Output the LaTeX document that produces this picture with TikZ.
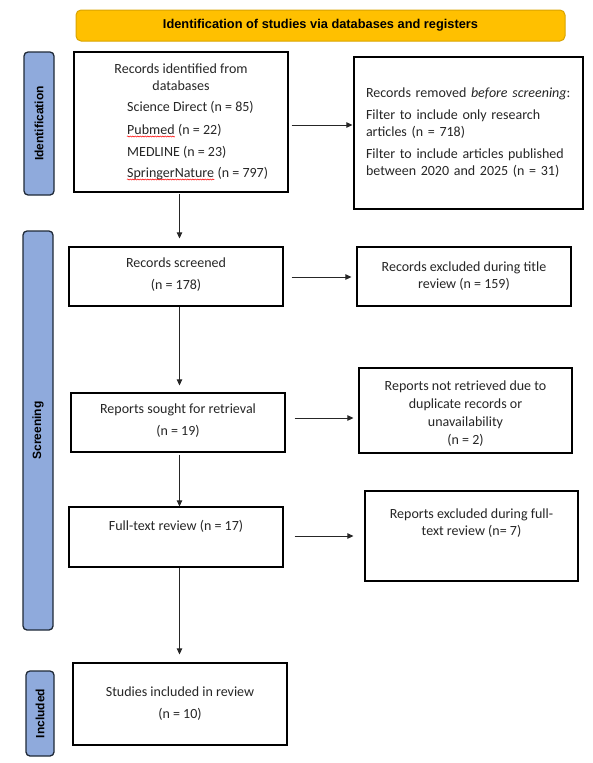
\documentclass[tikz,border=0pt]{standalone}
\usepackage{fontspec}
\setmainfont{Carlito}
\newfontfamily\arialfont{Liberation Sans}
\usetikzlibrary{arrows.meta,decorations.pathmorphing,calc}
\definecolor{hdrfill}{HTML}{FFC000}
\definecolor{hdrdraw}{HTML}{D9A400}
\definecolor{barfill}{HTML}{8FAADC}
\definecolor{bardraw}{HTML}{1F2937}
\definecolor{txt}{HTML}{262626}
\begin{document}
\begin{tikzpicture}[x=1pt,y=-1pt,
  box/.style={draw=black, line width=1.2pt, fill=white, font=\fontsize{14}{17}\selectfont, text=txt, align=center, inner sep=0pt},
  line/.style={font=\fontsize{14}{17}\selectfont, text=txt, inner sep=0pt},
  bar/.style={draw=bardraw, line width=1.3pt, fill=barfill, rounded corners=4pt, inner sep=0pt, rotate=90, font=\arialfont\bfseries\fontsize{12}{14}\selectfont, text=black},
  arr/.style={draw=txt, line width=0.8pt, -{Triangle[length=6pt,width=5.5pt]}},
  squiggle/.style={draw=red, line width=0.5pt, decorate, decoration={snake,amplitude=0.6pt,segment length=2.5pt}},
]
\useasboundingbox (0,0) rectangle (592,763);

\node[draw=hdrdraw, line width=1pt, fill=hdrfill, rounded corners=5pt, minimum width=489pt, minimum height=31pt, inner sep=0pt, font=\arialfont\bfseries\fontsize{12.8}{15}\selectfont] (hdr) at (320.5,25.5) {Identification of studies via databases and registers};

\node[bar, minimum width=143pt, minimum height=30pt] (barI) at (39,123.5) {Identification};
\node[bar, minimum width=399pt, minimum height=30pt] (barS) at (38,430.5) {Screening};
\node[bar, minimum width=85pt, minimum height=28pt] (barN) at (40,713.5) {Included};

% Records identified box
\node[box, minimum width=214pt, minimum height=140pt] (b1) at (181,122) {};
\node[line, anchor=base] (b1a) at (181,73.5) {Records identified from};
\node[line, anchor=base] (b1b) at (181,90.5) {databases};
\node[line, anchor=base west] (sd) at (127,111.5) {Science Direct (n = 85)};
\node[line, anchor=base west] (pm) at (127,134.5) {Pubmed};
\node[line, anchor=base west] (pmn) at (pm.base east) {\ (n = 22)};
\node[line, anchor=base west] (md) at (127,156.5) {MEDLINE (n = 23)};
\node[line, anchor=base west] (sn) at (127,177.5) {SpringerNature};
\node[line, anchor=base west] (snn) at (sn.base east) {\ (n = 797)};
\draw[squiggle] ([yshift=-2pt]pm.base west) -- ([yshift=-2pt]pm.base east);
\draw[squiggle] ([yshift=-2pt]sn.base west) -- ([yshift=-2pt]sn.base east);

\node[box, align=left, text width=205pt, minimum width=229pt, minimum height=152pt, inner xsep=12pt] (rm) at (468.5,133) {Records removed \textit{before screening}:\\[5pt]Filter to include only research\\articles (n = 718)\\[5pt]Filter to include articles published\\between 2020 and 2025 (n = 31)};

\node[box, minimum width=214pt, minimum height=59pt] (scr) at (176,276.5) {Records screened\\[5pt](n = 178)\\[-12pt]~};
\node[box, minimum width=214pt, minimum height=59pt] (exc) at (464,276.5) {Records excluded during title\\review (n = 159)};

\node[box, minimum width=214pt, minimum height=59pt] (sgt) at (178,422.5) {Reports sought for retrieval\\[5pt](n = 19)\\[-11pt]~};
\node[box, minimum width=213pt, minimum height=85pt] (nr) at (465.5,410.5) {\rule{0pt}{16pt}Reports not retrieved due to\\[1pt]duplicate records or\\[1pt]unavailability\\[1pt](n = 2)};

\node[box, minimum width=214pt, minimum height=60pt] (ft) at (176,537) {Full-text review (n = 17)\\[7pt]~};
\node[box, minimum width=213pt, minimum height=90pt] (fte) at (471.5,536) {Reports excluded during full-\\text review (n= 7)\\[11pt]~};

\node[box, minimum width=214pt, minimum height=82pt] (inc) at (180,704) {Studies included in review\\[5pt](n = 10)};

\coordinate (vx) at (179.5,0);
\draw[arr, shorten <=1pt, shorten >=8pt] (b1.south -| vx) -- (scr.north -| vx);
\draw[arr, shorten >=7pt] (scr.south -| vx) -- (sgt.north -| vx);
\draw[arr, shorten <=2pt] (sgt.south -| vx) -- (ft.north -| vx);
\draw[arr, shorten >=8pt] (ft.south -| vx) -- (inc.north -| vx);

\coordinate (h1) at (0,125);
\coordinate (h2) at (0,277);
\coordinate (h3) at (0,418);
\coordinate (h4) at (0,536);
\draw[arr, shorten <=3pt, shorten >=1pt] (b1.east |- h1) -- (rm.west |- h1);
\draw[arr, shorten <=8pt, shorten >=5pt] (scr.east |- h2) -- (exc.west |- h2);
\draw[arr, shorten <=9pt, shorten >=5pt] (sgt.east |- h3) -- (nr.west |- h3);
\draw[arr, shorten <=11pt, shorten >=11pt] (ft.east |- h4) -- (fte.west |- h4);
\end{tikzpicture}
\end{document}
